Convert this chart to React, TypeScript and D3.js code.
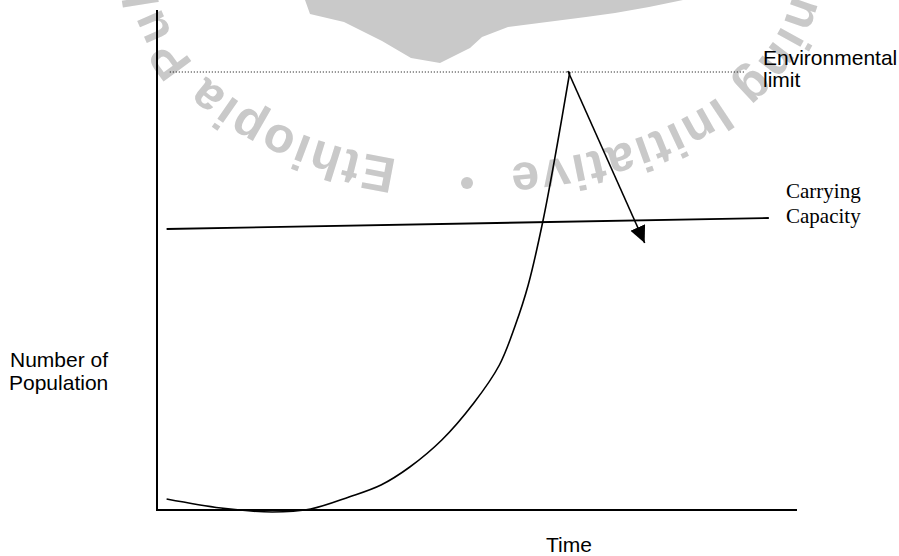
import React, { useEffect, useRef } from 'react';
import * as d3 from 'd3';

// values (time 0-100, population 0-100)
const timeDomain = [0, 100];
const popDomain = [0, 100];
const curveTime = [1.5, 10, 18, 24, 30, 35, 39.5, 44.5, 49.5, 53.5, 56, 58, 60.3, 62.5, 64.5];
const curvePop = [2.2, 0.4, -0.4, 0.2, 2.6, 5, 8.6, 14, 21.4, 29, 37, 45, 57.8, 72.8, 87.6];
const limitTime = [2, 92];
const limitPop = 87.6;
const capacityTime = [1.5, 95.6];
const capacityPop = [56.2, 58.4];
const arrowTime = [64.2, 76.2];
const arrowPop = [87.8, 53.4];

const W = 899;
const H = 556;
const margin = { top: 10, right: 102, bottom: 46, left: 157 };

export default function App() {
  const svgRef = useRef<SVGSVGElement | null>(null);

  useEffect(() => {
    const svg = d3.select(svgRef.current).attr('width', W).attr('height', H);
    svg.selectAll('*').remove();

    const x = d3.scaleLinear().domain(timeDomain).range([margin.left, W - margin.right]);
    const y = d3.scaleLinear().domain(popDomain).range([H - margin.bottom, margin.top]);

    const defs = svg.append('defs');

    // watermark (stamp) in light grey
    const wm = svg.append('g').attr('fill', '#c9c9c9');
    const blob = [[305, 0], [310, 14], [344, 22], [382, 41], [411, 58], [440, 63], [470, 48], [482, 37], [508, 27], [547, 22], [586, 17], [615, 13], [649, 7], [683, 0]];
    wm.append('path').attr('d', d3.line()(blob as [number, number][]) + 'Z');
    const cx = 475, cy = -30, rx = 320, ry = 195;
    const pt = (deg: number) => {
      const a = (deg * Math.PI) / 180;
      return [cx + rx * Math.cos(a), cy + ry * Math.sin(a)];
    };
    const a0 = pt(104), a1 = pt(270), b1 = pt(84 + 360);
    defs.append('path').attr('id', 'stampA')
      .attr('d', `M${a0[0]},${a0[1]} A${rx},${ry} 0 0 1 ${a1[0]},${a1[1]}`);
    defs.append('path').attr('id', 'stampB')
      .attr('d', `M${a1[0]},${a1[1]} A${rx},${ry} 0 0 1 ${b1[0]},${b1[1]}`);
    const stamp = (id: string, txt: string, anchor: string, offset: string) =>
      wm.append('text')
        .attr('font-family', 'Liberation Sans, Arial, sans-serif')
        .attr('font-weight', 'bold')
        .attr('font-size', 50)
        .attr('letter-spacing', 2)
        .attr('text-anchor', anchor)
        .append('textPath')
        .attr('href', `#${id}`)
        .attr('startOffset', offset)
        .text(txt);
    stamp('stampA', 'Ethiopia Public', 'start', '0%');
    stamp('stampB', 'Training Initiative', 'end', '100%');
    const pb = pt(90);
    wm.append('circle').attr('cx', pb[0] - 8).attr('cy', pb[1] + 18).attr('r', 6);

    // marker for the arrow
    defs.append('marker').attr('id', 'head')
      .attr('markerUnits', 'userSpaceOnUse')
      .attr('markerWidth', 20).attr('markerHeight', 20)
      .attr('refX', 17).attr('refY', 8).attr('orient', 'auto')
      .append('path').attr('d', 'M0,0L17,8L0,16Z').attr('fill', '#000');

    // axes
    svg.append('line')
      .attr('x1', x(0)).attr('x2', x(0)).attr('y1', y(0) + 1).attr('y2', y(100))
      .attr('stroke', '#000').attr('stroke-width', 2);
    svg.append('line')
      .attr('x1', x(0)).attr('x2', x(100)).attr('y1', y(0)).attr('y2', y(0))
      .attr('stroke', '#000').attr('stroke-width', 2);

    // environmental limit
    svg.append('line')
      .attr('x1', x(limitTime[0])).attr('x2', x(limitTime[1]))
      .attr('y1', y(limitPop)).attr('y2', y(limitPop))
      .attr('stroke', '#000').attr('stroke-width', 1).attr('stroke-dasharray', '1,2');

    // carrying capacity
    svg.append('line')
      .attr('x1', x(capacityTime[0])).attr('x2', x(capacityTime[1]))
      .attr('y1', y(capacityPop[0])).attr('y2', y(capacityPop[1]))
      .attr('stroke', '#000').attr('stroke-width', 1.8);

    // population curve
    const pts = curveTime.map((t, i) => [t, curvePop[i]] as [number, number]);
    const line = d3.line<[number, number]>()
      .x(d => x(d[0]))
      .y(d => y(d[1]))
      .curve(d3.curveCatmullRom.alpha(0.5));
    svg.append('path').datum(pts)
      .attr('fill', 'none').attr('stroke', '#000').attr('stroke-width', 1.6)
      .attr('d', line);

    // crash arrow
    svg.append('line')
      .attr('x1', x(arrowTime[0])).attr('y1', y(arrowPop[0]))
      .attr('x2', x(arrowTime[1])).attr('y2', y(arrowPop[1]))
      .attr('stroke', '#000').attr('stroke-width', 1.6)
      .attr('marker-end', 'url(#head)');

    // labels
    const sans = 'Liberation Sans, Arial, sans-serif';
    const serif = 'Liberation Serif, Times New Roman, serif';
    const label = (txt: string, lx: number, ly: number, font: string, size: number) =>
      svg.append('text').attr('x', lx).attr('y', ly).attr('font-family', font)
        .attr('font-size', size).attr('fill', '#000').text(txt);

    label('Environmental', 763, 65, sans, 21);
    label('limit', 763, 87, sans, 21);
    label('Carrying', 786, 198, serif, 21);
    label('Capacity', 786, 223, serif, 21);
    label('Number of', 10, 367, sans, 21);
    label('Population', 9, 390, sans, 21);
    label('Time', 546, 552, sans, 21);
  }, []);

  return <svg ref={svgRef} style={{ position: 'absolute', left: 0, top: 0 }}></svg>;
}
